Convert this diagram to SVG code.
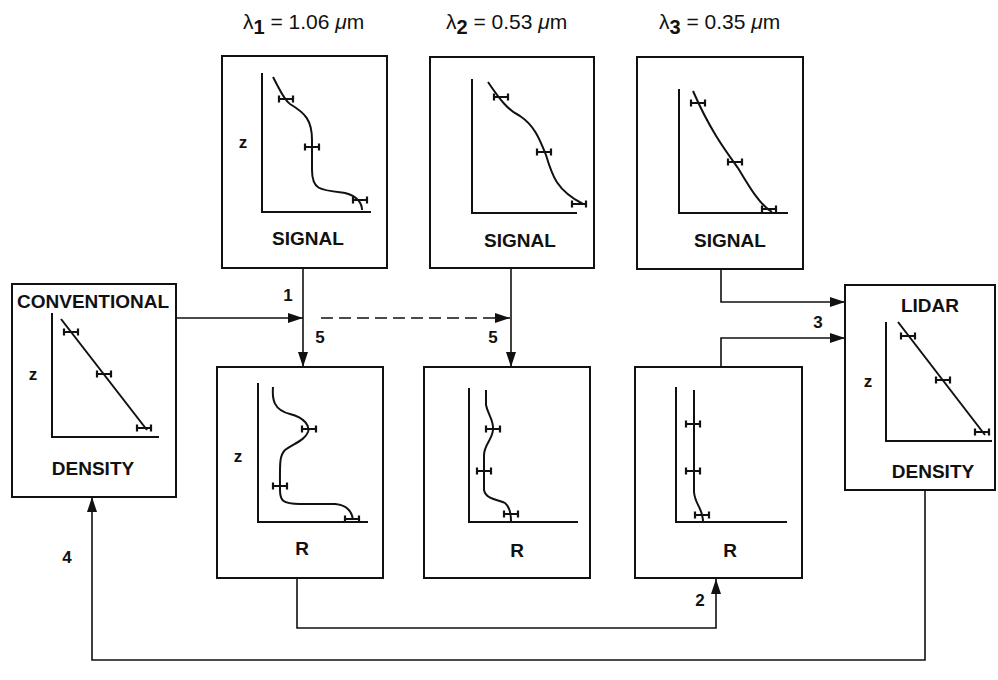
<svg xmlns="http://www.w3.org/2000/svg" width="998" height="680" viewBox="0 0 998 680">
<style>
.box{fill:#fff;stroke:#111;stroke-width:2}
.ax{fill:none;stroke:#111;stroke-width:2}
.cv{fill:none;stroke:#111;stroke-width:2}
.eb{fill:none;stroke:#111;stroke-width:2.2}
.ln{fill:none;stroke:#111;stroke-width:1.6}
.t{font-family:"Liberation Sans",Arial,sans-serif;font-weight:bold;font-size:19px;fill:#111;text-anchor:middle}
.z{font-family:"Liberation Sans",Arial,sans-serif;font-weight:bold;font-size:17px;fill:#111;text-anchor:middle}
.n{font-family:"Liberation Sans",Arial,sans-serif;font-weight:bold;font-size:17px;fill:#111;text-anchor:middle}
.lam{font-family:"Liberation Sans",Arial,sans-serif;font-size:21px;fill:#111}
</style>
<defs>
<marker id="ah" markerUnits="userSpaceOnUse" markerWidth="16" markerHeight="12" refX="15" refY="5" orient="auto">
<path d="M0,0 L15,5 L0,10 z" fill="#111"/>
</marker>
<g id="eb"><path d="M-7,0 H7 M-7,-3.5 V3.5 M7,-3.5 V3.5" class="eb"/></g>
</defs>
<rect width="998" height="680" fill="#fff"/>

<g id="labels">
<text class="lam" x="243" y="29">λ<tspan font-weight="bold" dy="5" font-size="20">1</tspan><tspan dy="-5"> = 1.06 </tspan><tspan font-style="italic">μ</tspan>m</text>
<text class="lam" x="446" y="29">λ<tspan font-weight="bold" dy="5" font-size="20">2</tspan><tspan dy="-5"> = 0.53 </tspan><tspan font-style="italic">μ</tspan>m</text>
<text class="lam" x="659" y="29">λ<tspan font-weight="bold" dy="5" font-size="20">3</tspan><tspan dy="-5"> = 0.35 </tspan><tspan font-style="italic">μ</tspan>m</text>
</g>

<g id="connectors">
<path class="ln" d="M176,318 H303" marker-end="url(#ah)"/>
<path class="ln" d="M321,318 H510" stroke-dasharray="12,6" marker-end="url(#ah)"/>
<path class="ln" d="M303,268 V367" marker-end="url(#ah)"/>
<path class="ln" d="M511,268 V367" marker-end="url(#ah)"/>
<path class="ln" d="M721,269 V302 H845" marker-end="url(#ah)"/>
<path class="ln" d="M721,367 V338 H845" marker-end="url(#ah)"/>
<path class="ln" d="M297,578 V628 H716 V579" marker-end="url(#ah)"/>
<path class="ln" d="M925,490 V660 H92 V497" marker-end="url(#ah)"/>
<text class="n" x="288" y="301">1</text>
<text class="n" x="320" y="343">5</text>
<text class="n" x="493" y="343">5</text>
<text class="n" x="818" y="328">3</text>
<text class="n" x="700" y="606">2</text>
<text class="n" x="67" y="563">4</text>
</g>

<g id="signal1">
<rect class="box" x="222" y="56" width="165" height="212"/>
<path class="ax" d="M262,73 V212 H371"/>
<path class="cv" d="M273,77 C280,90 284,100 290,104 C305,113 312,120 312,140 L312,170 C312,190 320,190 345,193 C358,196 362,204 362,210"/>
<use href="#eb" x="286" y="99"/><use href="#eb" x="312" y="147"/><use href="#eb" x="360" y="200"/>
<text class="z" x="243" y="148">z</text>
<text class="t" x="308" y="245">SIGNAL</text>
</g>

<g id="signal2">
<rect class="box" x="430" y="57" width="164" height="211"/>
<path class="ax" d="M472,79 V213 H577"/>
<path class="cv" d="M488,82 C500,100 508,110 520,116 C535,126 540,140 546,155 C552,175 556,190 583,204"/>
<use href="#eb" x="501" y="97"/><use href="#eb" x="544" y="152"/><use href="#eb" x="579" y="204"/>
<text class="t" x="520" y="247">SIGNAL</text>
</g>

<g id="signal3">
<rect class="box" x="637" y="57" width="166" height="212"/>
<path class="ax" d="M679,89 V213 H788"/>
<path class="cv" d="M693,91 C710,130 725,150 738,168 C750,188 760,205 772,212"/>
<use href="#eb" x="698" y="103"/><use href="#eb" x="735" y="162"/><use href="#eb" x="769" y="209"/>
<text class="t" x="730" y="247">SIGNAL</text>
</g>

<g id="conventional">
<rect class="box" x="12" y="284" width="164" height="213"/>
<path class="ax" d="M52,313 V437 H159"/>
<path class="cv" d="M61,319 L147,430"/>
<use href="#eb" x="71" y="332"/><use href="#eb" x="104" y="374"/><use href="#eb" x="144" y="428"/>
<text class="z" x="33" y="380">z</text>
<text class="t" x="93" y="308">CONVENTIONAL</text>
<text class="t" x="93" y="475">DENSITY</text>
</g>

<g id="lidar">
<rect class="box" x="845" y="285" width="150" height="205"/>
<path class="ax" d="M886,322 V441 H992"/>
<path class="cv" d="M898,322 L985,435"/>
<use href="#eb" x="908" y="336"/><use href="#eb" x="943" y="380"/><use href="#eb" x="982" y="432"/>
<text class="z" x="868" y="387">z</text>
<text class="t" x="930" y="312">LIDAR</text>
<text class="t" x="933" y="478">DENSITY</text>
</g>

<g id="r1">
<rect class="box" x="217" y="367" width="166" height="211"/>
<path class="ax" d="M258,383 V522 H368"/>
<path class="cv" d="M273,387 C272,400 274,410 290,414 C305,418 310,426 308,432 C305,440 295,443 285,450 C279,456 280,465 280,490 C280,500 282,504 300,504 L335,504 C348,505 352,512 353,520"/>
<use href="#eb" x="309" y="429"/><use href="#eb" x="280" y="486"/><use href="#eb" x="352" y="519"/>
<text class="z" x="238" y="462">z</text>
<text class="t" x="302" y="555">R</text>
</g>

<g id="r2">
<rect class="box" x="424" y="367" width="166" height="211"/>
<path class="ax" d="M469,388 V522 H578"/>
<path class="cv" d="M486,390 L486,405 C488,415 494,420 493,430 C492,440 484,445 484,455 L484,490 C486,500 500,500 505,503 C510,507 511,514 511,522"/>
<use href="#eb" x="493" y="429"/><use href="#eb" x="484" y="471"/><use href="#eb" x="511" y="514"/>
<text class="t" x="517" y="557">R</text>
</g>

<g id="r3">
<rect class="box" x="635" y="367" width="167" height="211"/>
<path class="ax" d="M676,387 V522 H787"/>
<path class="cv" d="M694,390 L694,492 C695,505 703,508 703,522"/>
<use href="#eb" x="693" y="424"/><use href="#eb" x="693" y="471"/><use href="#eb" x="702" y="515"/>
<text class="t" x="730" y="557">R</text>
</g>
</svg>
